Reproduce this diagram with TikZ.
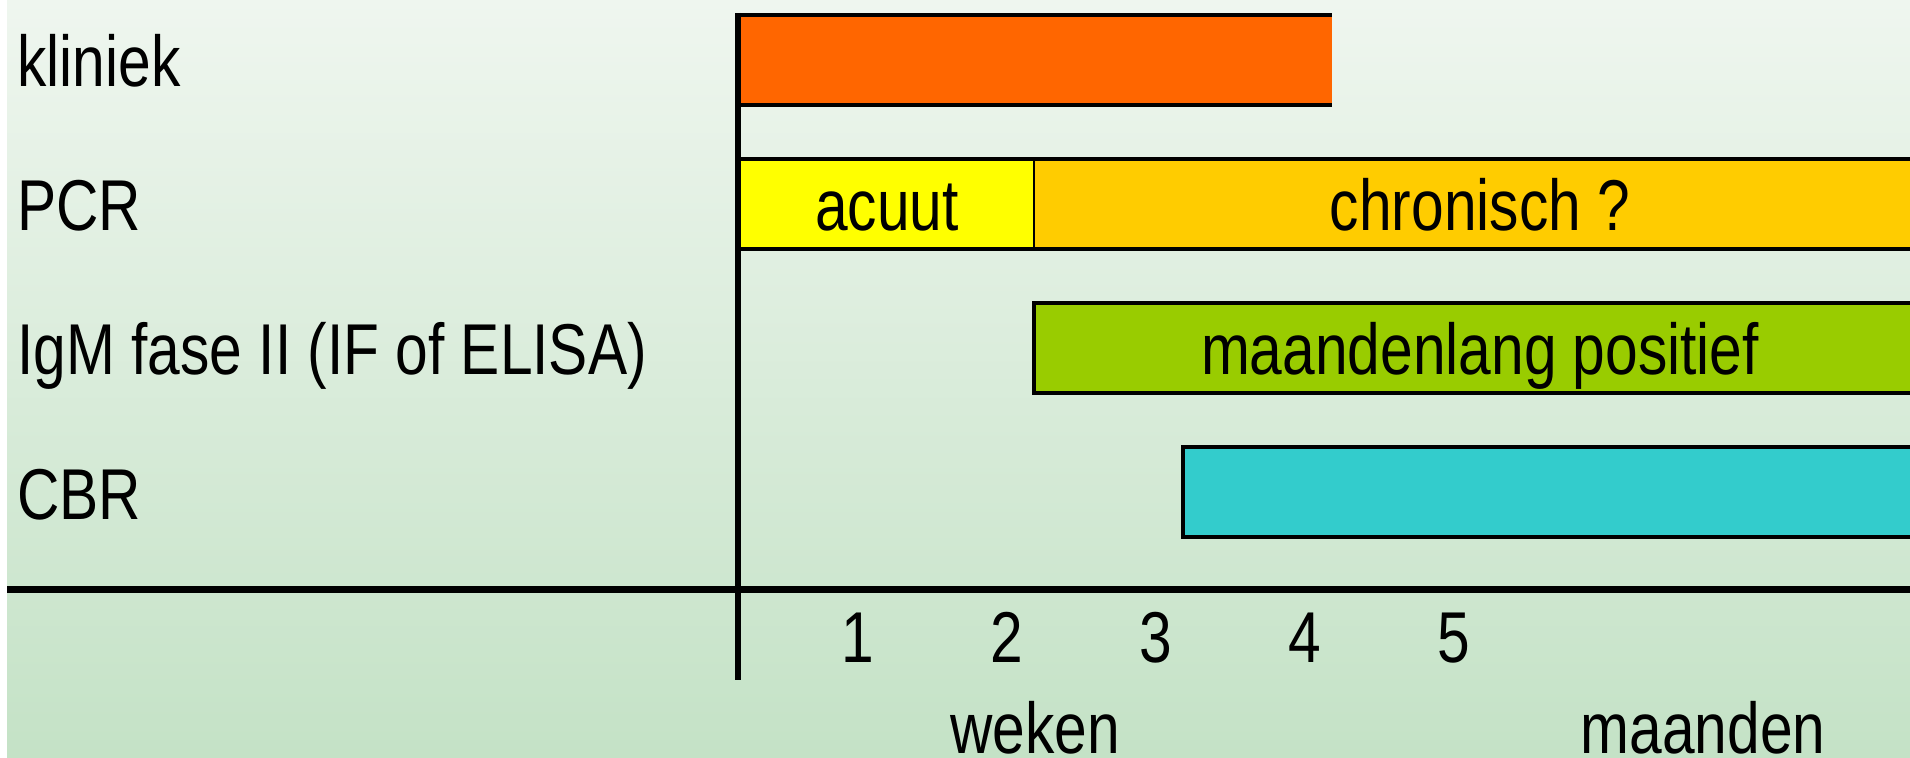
\documentclass[tikz,border=0pt]{standalone}
\usepackage{fontspec}
\setmainfont{Liberation Sans}[FakeStretch=0.815]

\definecolor{bgtop}{RGB}{239,246,239}
\definecolor{bgbottom}{RGB}{196,226,198}
\definecolor{oranje}{RGB}{255,102,0}
\definecolor{geel}{RGB}{255,255,0}
\definecolor{goud}{RGB}{255,204,0}
\definecolor{groen}{RGB}{153,204,0}
\definecolor{turkoois}{RGB}{51,204,204}

\begin{document}
\begin{tikzpicture}[x=0.5pt,y=-0.5pt,
        every node/.style={font=\fontsize{36}{43}\selectfont, inner sep=0pt},
        rijlabel/.style={anchor=base west},
        balktekst/.style={anchor=base},
        rand/.style={line width=2pt},
        as/.style={line width=3pt}]

            \useasboundingbox (0,0) rectangle (1910,758);
            \fill[white] (0,0) rectangle (1910,758);
            \shade[top color=bgtop, bottom color=bgbottom] (7,0) rectangle (1910,758);

            % balken
            \fill[oranje] (738,15) rectangle (1332,105);
            \draw[rand] (738,15) -- (1332,15);
            \draw[rand] (738,105) -- (1332,105);

            \fill[geel] (738,159) rectangle (1034,249);
            \fill[goud] (1034,159) rectangle (1915,249);
            \draw[line width=1.3pt] (1034,159) -- (1034,249);
            \draw[rand] (738,159) -- (1915,159);
            \draw[rand] (738,249) -- (1915,249);

            \fill[groen] (1034,303) rectangle (1915,393);
            \draw[rand] (1915,303) -- (1034,303) -- (1034,393) -- (1915,393);

            \fill[turkoois] (1183,447) rectangle (1915,537);
            \draw[rand] (1915,447) -- (1183,447) -- (1183,537) -- (1915,537);

            % assen
            \coordinate (oorsprong) at (738,589.5);
            \coordinate (asboven) at (738,13);
            \coordinate (asonder) at (738,680);
            \coordinate (aslinks) at (7,589.5);
            \coordinate (asrechts) at (1915,589.5);
            \draw[as] (asboven) -- (asonder);
            \draw[line width=3.5pt] (aslinks) -- (asrechts);

            % teksten
            \node[rijlabel] (kliniek) at (17,87) {kliniek};
            \node[rijlabel] (pcr) at (17,231) {PCR};
            \node[rijlabel] (igm) at (17,375) {IgM fase II (IF of ELISA)};
            \node[rijlabel] (cbr) at (17,519) {CBR};

            \node[balktekst] (acuut) at (887,231) {acuut};
            \node[balktekst] (chronisch) at (1480,231) {chronisch ?};
            \node[balktekst] (positief) at (1480,375) {maandenlang positief};

            \foreach \w in {1,...,5}
                \node[balktekst] (week\w) at ({709+149*\w},662) {\w};

            \node[balktekst] (weken) at (1035,753) {weken};
            \node[balktekst] (maanden) at (1703,753) {maanden};

\end{tikzpicture}
\end{document}
